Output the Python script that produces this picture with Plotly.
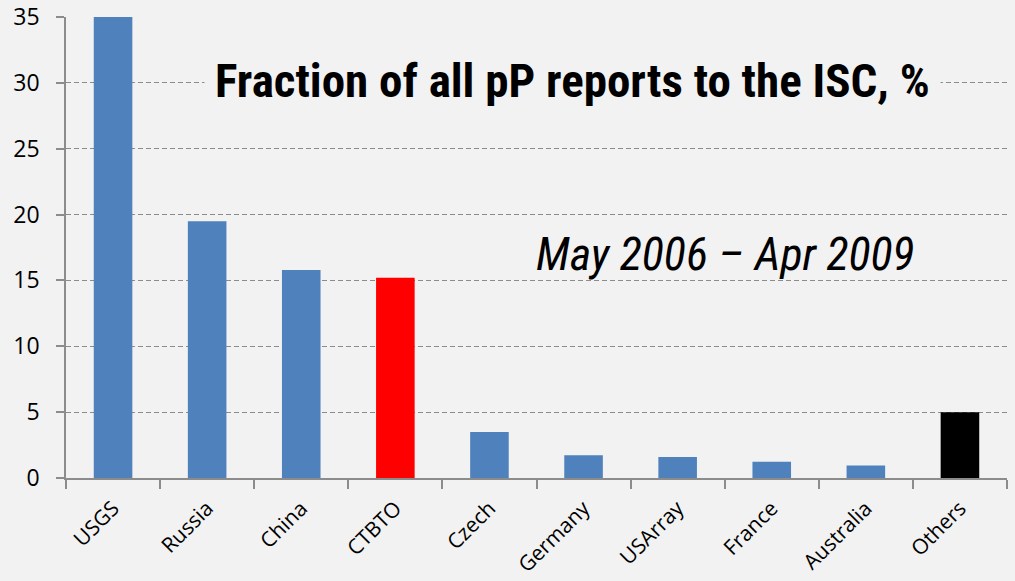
import plotly.graph_objects as go

categories = ["USGS", "Russia", "China", "CTBTO", "Czech", "Germany", "USArray", "France", "Australia", "Others"]
values = [35.0, 19.5, 15.8, 15.2, 3.5, 1.72, 1.6, 1.24, 0.95, 5.0]
colors = ["#4f81bd"] * 3 + ["#ff0000"] + ["#4f81bd"] * 5 + ["#000000"]
y_ticks = [0, 5, 10, 15, 20, 25, 30, 35]

title_text = "<b>Fraction of all pP reports to the ISC, %</b>"
subtitle_text = "<i>May 2006 – Apr 2009</i>"

fig = go.Figure()
fig.add_trace(go.Bar(
    x=categories, y=values,
    marker=dict(color=colors, line=dict(width=0)),
    width=0.41,
))

grey = "#8c8c8c"
tick_font = "Open Sans, DejaVu Sans"
fig.update_layout(
    width=1015, height=581,
    paper_bgcolor="#f2f2f2", plot_bgcolor="#f2f2f2",
    margin=dict(l=66, r=8, t=17, b=103, autoexpand=False),
    showlegend=False,
    font=dict(family=tick_font, color="#000000"),
    xaxis=dict(
        type="category",
        tickson="boundaries",
        ticks="outside", ticklen=9, tickcolor=grey, tickwidth=1.5,
        showline=True, linecolor=grey, linewidth=1.5,
        tickangle=-45,
        tickfont=dict(size=21, family=tick_font),
        ticklabelstandoff=8,
        showgrid=False,
        automargin=False,
        range=[-0.5, 9.5],
    ),
    yaxis=dict(
        range=[0, 35],
        tickvals=y_ticks,
        ticks="outside", ticklen=8, tickcolor=grey, tickwidth=1.5,
        showline=True, linecolor=grey, linewidth=1.5,
        showgrid=True, gridcolor=grey, gridwidth=1.2, griddash="5px,3px",
        tickfont=dict(size=23, family=tick_font),
        zeroline=False,
        automargin=False,
        ticklabelstandoff=12,
    ),
)

fig.add_annotation(
    text=title_text, xref="paper", yref="paper",
    x=(572 - 66) / 941, y=(581 - 103 - 80) / 461,
    xanchor="center", yanchor="middle", showarrow=False,
    font=dict(family="Roboto Condensed, Liberation Sans", size=47, color="#000000"),
    bgcolor="#f2f2f2", borderpad=10,
)
fig.add_annotation(
    text=subtitle_text, xref="paper", yref="paper",
    x=(725 - 66) / 941, y=(581 - 103 - 254) / 461,
    xanchor="center", yanchor="middle", showarrow=False,
    font=dict(family="Roboto Condensed, Liberation Sans", size=46, color="#000000"),
)

fig.write_html("out.html", config={"displayModeBar": False},
               post_script="document.body.style.margin='0px';")
